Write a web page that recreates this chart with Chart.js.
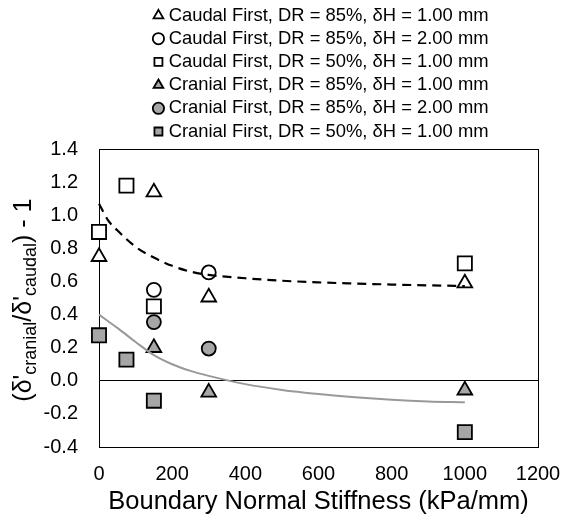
<!DOCTYPE html>
<html>
<head>
<meta charset="utf-8">
<script src="https://cdn.jsdelivr.net/npm/chart.js@4/dist/chart.umd.min.js"></script>
<style>
  html, body { margin: 0; padding: 0; background: #fff; }
  #wrap { width: 565px; height: 525px; }
</style>
</head>
<body>
<div id="wrap"><canvas id="c" width="565" height="525"></canvas></div>
<script>
// ---- data ----
const seriesLabels = [
  'Caudal First, DR = 85%, δH = 1.00 mm',
  'Caudal First, DR = 85%, δH = 2.00 mm',
  'Caudal First, DR = 50%, δH = 1.00 mm',
  'Cranial First, DR = 85%, δH = 1.00 mm',
  'Cranial First, DR = 85%, δH = 2.00 mm',
  'Cranial First, DR = 50%, δH = 1.00 mm'
];
const caudal85h1X = [0, 150, 300, 1000];
const caudal85h1Y = [0.75, 1.14, 0.505, 0.59];
const caudal85h2X = [150, 300];
const caudal85h2Y = [0.55, 0.655];
const caudal50h1X = [0, 75, 150, 1000];
const caudal50h1Y = [0.90, 1.18, 0.45, 0.71];
const cranial85h1X = [150, 300, 1000];
const cranial85h1Y = [0.20, -0.07, -0.057];
const cranial85h2X = [150, 300];
const cranial85h2Y = [0.355, 0.195];
const cranial50h1X = [0, 75, 150, 1000];
const cranial50h1Y = [0.275, 0.128, -0.12, -0.31];

// trend lines (at these stiffness values)
const trendX = [0, 25, 50, 100, 150, 200, 250, 300, 400, 500, 600, 700, 800, 900, 1000];
const trendCaudalY = [1.07, 0.97, 0.91, 0.81, 0.745, 0.695, 0.66, 0.64, 0.62, 0.605, 0.595, 0.588, 0.582, 0.577, 0.573];
const trendCranialY = [0.40, 0.36, 0.32, 0.235, 0.155, 0.10, 0.06, 0.03, -0.02, -0.055, -0.08, -0.10, -0.115, -0.125, -0.13];

const xTicks = [0, 200, 400, 600, 800, 1000, 1200];
const yTicks = [-0.4, -0.2, 0.0, 0.2, 0.4, 0.6, 0.8, 1.0, 1.2, 1.4];
const xTitle = 'Boundary Normal Stiffness (kPa/mm)';
const yTitleParts = [["(δ'", false], ['cranial', true], ["/δ'", false], ['caudal', true], [') - 1', false]];

// ---- build ----
const FONT = '"Liberation Sans", Arial, sans-serif';
const GRAY = '#a6a6a6';
const pts = (xs, ys) => xs.map((x, i) => ({x, y: ys[i]}));

function markerSet(label, xs, ys, style, fill, radius) {
  return {
    label, data: pts(xs, ys), pointStyle: style,
    backgroundColor: fill, borderColor: '#000', borderWidth: 1.8,
    pointRadius: radius, pointHoverRadius: radius, showLine: false, clip: false, order: 0
  };
}

const datasets = [
  markerSet(seriesLabels[0], caudal85h1X, caudal85h1Y, 'triangle', '#fff', 8.5),
  markerSet(seriesLabels[1], caudal85h2X, caudal85h2Y, 'circle', '#fff', 7),
  markerSet(seriesLabels[2], caudal50h1X, caudal50h1Y, 'rect', '#fff', 10),
  markerSet(seriesLabels[3], cranial85h1X, cranial85h1Y, 'triangle', GRAY, 8.5),
  markerSet(seriesLabels[4], cranial85h2X, cranial85h2Y, 'circle', GRAY, 7),
  markerSet(seriesLabels[5], cranial50h1X, cranial50h1Y, 'rect', GRAY, 10),
  {
    label: 'trendCaudal', data: pts(trendX, trendCaudalY), showLine: true,
    borderColor: '#000', borderWidth: 2.2, borderDash: [9, 6], pointRadius: 0,
    cubicInterpolationMode: 'monotone', clip: false, order: -1, isTrend: true
  },
  {
    label: 'trendCranial', data: pts(trendX, trendCranialY), showLine: true,
    borderColor: '#999999', borderWidth: 2, pointRadius: 0,
    cubicInterpolationMode: 'monotone', clip: false, order: -1, isTrend: true
  }
];

const LEGEND_SHIFT = 54;
const LEGEND_DROP = 1.5;
const legendShift = {
  id: 'legendShift',
  afterLayout(chart) {
    const lg = chart.legend;
    if (lg) { lg.left += LEGEND_SHIFT; lg.right += LEGEND_SHIFT; lg.top += LEGEND_DROP; lg.bottom += LEGEND_DROP; }
  }
};

const frame = {
  id: 'frame',
  beforeDatasetsDraw(chart) {
    const {ctx, chartArea: a} = chart;
    ctx.save();
    ctx.strokeStyle = '#000';
    ctx.lineWidth = 1;
    ctx.strokeRect(Math.round(a.left) + 0.5, Math.round(a.top) + 0.5,
                   Math.round(a.right - a.left), Math.round(a.bottom - a.top));
    ctx.restore();
  }
};

const yTitlePlugin = {
  id: 'yTitle',
  afterDraw(chart) {
    const ctx = chart.ctx;
    const mainFont = '25px ' + FONT, subFont = '18px ' + FONT;
    ctx.save();
    let total = 0;
    const widths = yTitleParts.map(([t, sub]) => {
      ctx.font = sub ? subFont : mainFont;
      const w = ctx.measureText(t).width; total += w; return w;
    });
    const ca = chart.chartArea;
    ctx.translate(31, (ca.top + ca.bottom) / 2 + 2);
    ctx.rotate(-Math.PI / 2);
    ctx.fillStyle = '#000';
    ctx.textBaseline = 'alphabetic';
    ctx.textAlign = 'left';
    let x = -total / 2;
    yTitleParts.forEach(([t, sub], i) => {
      ctx.font = sub ? subFont : mainFont;
      ctx.fillText(t, x, sub ? 5 : 0);
      x += widths[i];
    });
    ctx.restore();
  }
};

const near = (a, b) => Math.abs(a - b) < 1e-6;

new Chart(document.getElementById('c'), {
  type: 'scatter',
  data: { datasets },
  plugins: [legendShift, frame, yTitlePlugin],
  options: {
    responsive: false,
    animation: false,
    devicePixelRatio: 1,
    layout: { padding: { left: 0, right: 27, top: 0, bottom: 0 } },
    plugins: {
      tooltip: { enabled: false },
      legend: {
        display: true, position: 'top',
        labels: {
          usePointStyle: true, boxWidth: 2, boxHeight: 8, padding: 4.8,
          color: '#000', font: { family: FONT, size: 18.4 },
          filter: (item, data) => !data.datasets[item.datasetIndex].isTrend
        }
      }
    },
    scales: {
      x: {
        type: 'linear', min: 0, max: 1200,
        afterBuildTicks: s => { s.ticks = xTicks.map(v => ({value: v})); },
        afterFit: s => { s.height = 78; s.paddingLeft = 0; s.paddingRight = 0; },
        border: { display: false },
        grid: { display: false, drawTicks: false },
        ticks: { color: '#000', padding: 15, font: { family: FONT, size: 20 }, maxRotation: 0,
                 callback: v => String(v) },
        title: { display: true, text: xTitle, color: '#000', font: { family: FONT, size: 25.5 },
                 padding: { top: 0, bottom: 8 } }
      },
      y: {
        type: 'linear', min: -0.4, max: 1.4,
        afterBuildTicks: s => { s.ticks = yTicks.map(v => ({value: v})); },
        afterFit: s => { s.width = 99; },
        border: { display: false },
        grid: {
          drawTicks: false, lineWidth: 1,
          color: c => near(c.tick.value, 0) ? '#000' : 'rgba(0,0,0,0)'
        },
        ticks: { color: '#000', padding: 21, font: { family: FONT, size: 20 },
                 callback: v => Number(v).toFixed(1) },
        title: { display: false }
      }
    }
  }
});
</script>
</body>
</html>
